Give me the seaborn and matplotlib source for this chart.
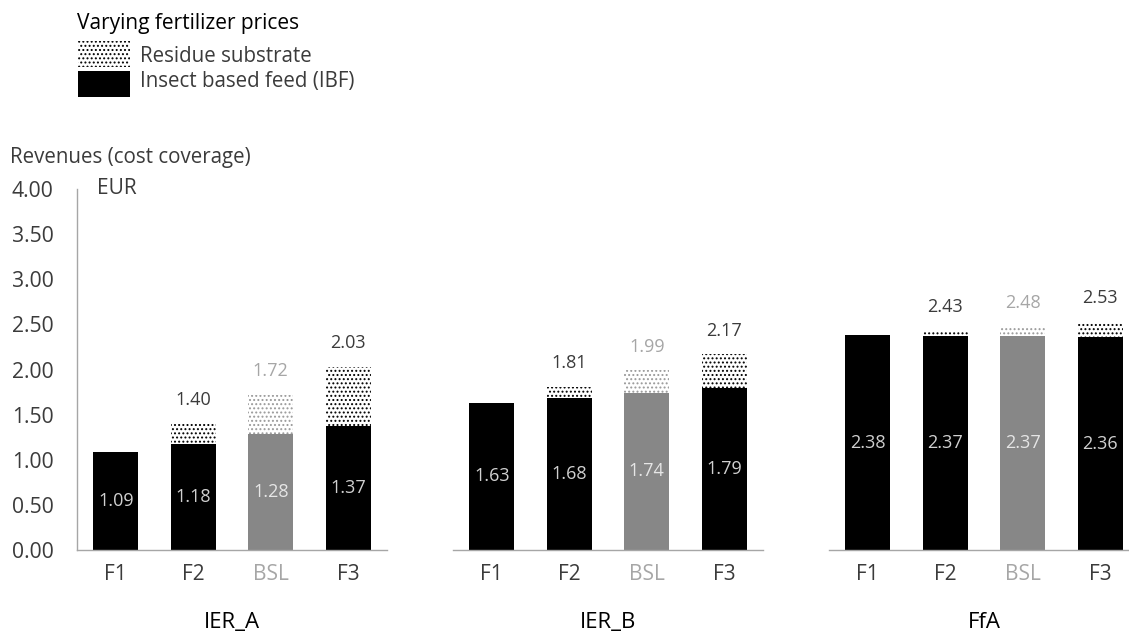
import matplotlib
matplotlib.use("Agg")
import matplotlib.pyplot as plt
import matplotlib.patches as mpatches
import numpy as np
import pandas as pd
import seaborn as sns

sns.set_theme(style="white")
plt.rcParams["font.family"] = ["Open Sans", "DejaVu Sans"]
plt.rcParams["hatch.linewidth"] = 0.9

# Data
groups = ["IER_A", "IER_B", "FfA"]
scenarios = ["F1", "F2", "BSL", "F3"]
ibf_ier_a = [1.09, 1.18, 1.28, 1.37]
ibf_ier_b = [1.63, 1.68, 1.74, 1.79]
ibf_ffa = [2.38, 2.37, 2.37, 2.36]
total_ier_a = [1.09, 1.40, 1.72, 2.03]
total_ier_b = [1.63, 1.81, 1.99, 2.17]
total_ffa = [2.38, 2.43, 2.48, 2.53]
show_total = [False, True, True, True]
yticks = [0.0, 0.5, 1.0, 1.5, 2.0, 2.5, 3.0, 3.5, 4.0]

ibf = {"IER_A": ibf_ier_a, "IER_B": ibf_ier_b, "FfA": ibf_ffa}
total = {"IER_A": total_ier_a, "IER_B": total_ier_b, "FfA": total_ffa}

BLACK = "#000000"
GREY_BAR = "#878787"
AXIS_GREY = "#a6a6a6"
TEXT = "#3b3b3b"
LIGHT_TEXT = "#d0d0d0"
BSL_TEXT = "#a6a6a6"
DOTS = "...."

W, H = 1129, 633
fig = plt.figure(figsize=(W / 100, H / 100), dpi=100)

lefts = [77, 453, 829]
ax_w = 310
ax_bottom, ax_top = 550, 189

for gi, g in enumerate(groups):
    ax = fig.add_axes([lefts[gi] / W, (H - ax_bottom) / H, ax_w / W, (ax_bottom - ax_top) / H])
    df = pd.DataFrame({"scenario": scenarios, "ibf": ibf[g], "total": total[g]})
    bar_cols = {s: (GREY_BAR if s == "BSL" else BLACK) for s in scenarios}
    hatch_cols = {s: ("#9a9a9a" if s == "BSL" else BLACK) for s in scenarios}

    # residue substrate stacked on top: full-total bars with dotted hatch
    sns.barplot(data=df, x="scenario", y="total", hue="scenario", order=scenarios,
                hue_order=scenarios, palette={s: "white" for s in scenarios},
                width=0.58, legend=False, ax=ax, errorbar=None, saturation=1)
    n_res = len(ax.patches)
    for p, s in zip(ax.patches, scenarios):
        p.set_hatch(DOTS)
        p.set_edgecolor(hatch_cols[s])
        p.set_linewidth(0)
    # insect based feed bars
    sns.barplot(data=df, x="scenario", y="ibf", hue="scenario", order=scenarios,
                hue_order=scenarios, palette=bar_cols,
                width=0.58, legend=False, ax=ax, errorbar=None, saturation=1)
    for p in ax.patches[n_res:]:
        p.set_linewidth(0)

    # value labels
    for i, s in enumerate(scenarios):
        v = ibf[g][i]
        ax.text(i, v / 2, f"{v:.2f}", ha="center", va="center", fontsize=13,
                color=("#e6e6e6" if s == "BSL" else LIGHT_TEXT))
        if show_total[i]:
            t = total[g][i]
            ax.annotate(f"{t:.2f}", xy=(i, t), xytext=(0, 17), textcoords="offset points",
                        ha="center", va="center", fontsize=13,
                        color=(BSL_TEXT if s == "BSL" else TEXT))

    ax.set_xlim(-0.5, 3.5)
    ax.set_ylim(0, 4)
    ax.set_xlabel("")
    ax.set_ylabel("")
    for side in ["top", "right"]:
        ax.spines[side].set_visible(False)
    ax.spines["bottom"].set_color(AXIS_GREY)
    ax.spines["bottom"].set_linewidth(1.0)

    # category boundaries as tick marks, labels at centres
    ax.set_xticks(np.arange(len(scenarios)))
    ax.set_xticklabels(scenarios)
    ax.set_xticks(np.arange(-0.5, len(scenarios)), minor=True)
    ax.tick_params(axis="x", which="major", length=0, pad=10, labelsize=15, labelcolor=TEXT)
    ax.tick_params(axis="x", which="minor", length=8, width=1, color=AXIS_GREY, direction="out")
    for lab, s in zip(ax.get_xticklabels(), scenarios):
        if s == "BSL":
            lab.set_color(BSL_TEXT)

    ax.text(1.5, -0.2, g, transform=ax.get_xaxis_transform(), ha="center", va="center",
            fontsize=16, color="#000000")

    if gi == 0:
        ax.spines["left"].set_color(AXIS_GREY)
        ax.spines["left"].set_linewidth(1.0)
        ax.set_yticks(yticks)
        ax.set_yticklabels([f"{y:.2f}" for y in yticks])
        ax.tick_params(axis="y", length=8, width=1, color=AXIS_GREY, direction="in",
                       pad=17, labelsize=15.2, labelcolor=TEXT)
        ax.text(0.065, 1.0, "EUR", transform=ax.transAxes, ha="left", va="center",
                fontsize=15, color=TEXT)
    else:
        ax.spines["left"].set_visible(False)
        ax.set_yticks([])
    ax.patch.set_alpha(0)

# axis title
fig.text(10 / W, 1 - 158 / H, "Revenues (cost coverage)", ha="left", va="center",
         fontsize=14.8, color=TEXT)

# legend block
fig.text(77 / W, 1 - 23 / H, "Varying fertilizer prices", ha="left", va="center",
         fontsize=15, color="#000000")
res_patch = mpatches.Rectangle((78 / W, 1 - 67 / H), 52 / W, 26 / H, transform=fig.transFigure,
                               facecolor="white", edgecolor=BLACK, hatch=DOTS, linewidth=0)
ibf_patch = mpatches.Rectangle((78 / W, 1 - 97 / H), 52 / W, 26 / H, transform=fig.transFigure,
                               facecolor=BLACK, linewidth=0)
fig.patches.extend([res_patch, ibf_patch])
fig.text(140 / W, 1 - 57 / H, "Residue substrate", ha="left", va="center", fontsize=14.8,
         color=TEXT)
fig.text(140 / W, 1 - 81 / H, "Insect based feed (IBF)", ha="left", va="center", fontsize=14.8,
         color=TEXT)

fig.savefig("out.png", dpi=100)
